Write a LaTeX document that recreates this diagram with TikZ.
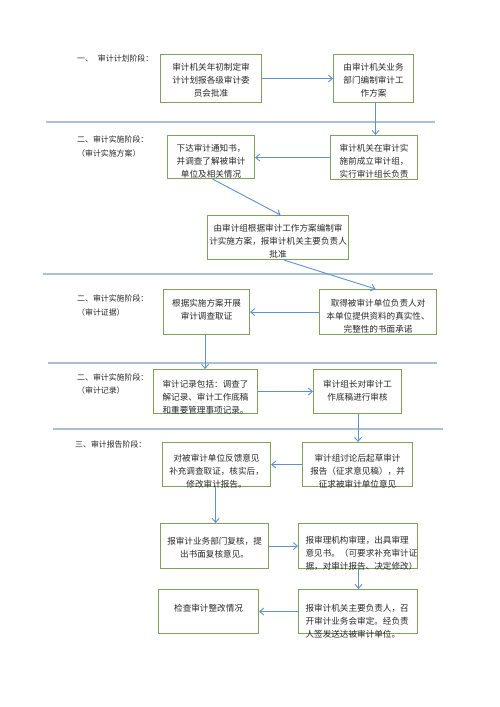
\documentclass[tikz,border=0pt]{standalone}
\usepackage{fontspec}
\newfontfamily\cjk{Noto Sans CJK SC}
\usetikzlibrary{arrows.meta}
\definecolor{boxgreen}{RGB}{128,160,96}
\definecolor{arrowblue}{RGB}{95,145,205}
\definecolor{sepline}{RGB}{172,192,212}
\definecolor{txt}{RGB}{40,40,40}
\tikzset{
  box/.style={draw=boxgreen, line width=1.1pt, anchor=north west, inner xsep=1pt, inner ysep=0pt,
    font=\cjk\fontsize{8.6}{13}\selectfont, text=txt, align=center},
  leftbox/.style={box, inner xsep=7pt, align=left},
  boxdim/.style n args={3}{text width=#1, text height=#2, text depth=#3},
  arr/.style={draw=arrowblue, line width=0.9pt, -{Straight Barb[length=4pt,width=7pt]}},
  sepl/.style={draw=sepline, line width=1.2pt},
  stage/.style={anchor=base west, font=\cjk\fontsize{7.9}{14}\selectfont, align=left,
    inner sep=0pt, text=txt, text width=90pt},
}
\begin{document}
\begin{tikzpicture}[x=1pt,y=-1pt]
\fill[white] (0,0) rectangle (500,707);
\useasboundingbox (0,0) rectangle (500,707);

% separators
\draw[sepl] (46,122) -- (435,122);
\draw[sepl] (43,274) -- (433,274);
\draw[sepl] (48,363) -- (437,363);
\draw[sepl] (53,429) -- (443,429);

% stage labels
\node[stage] (s1) at (77,61) {一、\hspace{5pt}审计计划阶段：};
\node[stage] (s2) at (77,142) {二、审计实施阶段：\\（审计实施方案）};
\node[stage] (s3) at (77,301) {二、审计实施阶段：\\（审计证据）};
\node[stage, font=\cjk\fontsize{7.9}{13}\selectfont] (s4) at (77,380) {二、审计实施阶段：\\（审计记录）};
\node[stage] (s5) at (75,447) {三、审计报告阶段：};

% boxes
\node[box, boxdim={99pt}{16pt}{32pt}] (A) at (160,54) {审计机关年初制定审\\计计划报各级审计委\\员会批准};
\node[box, boxdim={78pt}{16pt}{32pt}] (B) at (333,54) {由审计机关业务\\部门编制审计工\\作方案};
\node[box, boxdim={85pt}{15.5pt}{27.5pt}] (D) at (167,135) {下达审计通知书，\\并调查了解被审计\\单位及相关情况};
\node[box, boxdim={85pt}{15.5pt}{28.5pt}] (C) at (330,135) {审计机关在审计实\\施前成立审计组，\\实行审计组长负责};
\node[box, boxdim={139pt}{15.5pt}{28.5pt}] (E) at (207,215) {由审计组根据审计工作方案编制审\\计实施方案，报审计机关主要负责人\\批准};
\node[box, boxdim={84pt}{16.5pt}{28.5pt}] (G) at (163,289) {根据实施方案开展\\审计调查取证};
\node[box, boxdim={115pt}{16.5pt}{28.5pt}] (F) at (319,289) {取得被审计单位负责人对\\本单位提供资料的真实性、\\完整性的书面承诺};
\node[box, boxdim={102pt}{17.5pt}{26.5pt}] (H) at (153,369) {审计记录包括：调查了\\解记录、审计工作底稿\\和重要管理事项记录。};
\node[box, boxdim={86pt}{17.5pt}{26.5pt}] (I) at (313,369) {审计组长对审计工\\作底稿进行审核};
\node[box, boxdim={106pt}{19pt}{25pt}] (K) at (162,442) {对被审计单位反馈意见\\补充调查取证，核实后，\\修改审计报告。};
\node[box, boxdim={108pt}{18.5pt}{25.5pt}] (J) at (302,442) {审计组讨论后起草审计\\报告（征求意见稿），并\\征求被审计单位意见};
\node[box, boxdim={106pt}{20.5pt}{24.5pt}] (L) at (160,523) {报审计业务部门复核，提\\出书面复核意见。};
\node[leftbox, boxdim={105pt}{19.5pt}{25.5pt}] (M) at (298,523) {报审理机构审理，出具审理\\意见书。（可要求补充审计证\\据，对审计报告、决定修改）};
\node[leftbox, boxdim={105pt}{21.5pt}{22.5pt}] (N) at (298,589) {报审计机关主要负责人，召\\开审计业务会审定。经负责\\人签发送达被审计单位。};
\node[box, boxdim={98pt}{21.5pt}{22.5pt}] (O) at (158,589) {检查审计整改情况};

% arrows
\draw[arr] (A.east) -- (A.east -| B.west);
\draw[arr] ([xshift=2pt]B.south) -- ([xshift=2pt]B.south |- C.north);
\draw[arr] (C.west) -- (C.west -| D.east);
\draw[arr] ([xshift=1.5pt]D.south) -- ([xshift=2.5pt]E.north);
\draw[arr] ([xshift=6pt]E.south) -- ([xshift=-2.5pt]F.north);
\draw[arr] (F.west) -- (F.west -| G.east);
\draw[arr] ([xshift=-1.5pt]G.south) -- ([xshift=-1.5pt]G.south |- H.north);
\draw[arr] (H.east) -- (H.east -| I.west);
\draw[arr] ([xshift=0.5pt]I.south) -- ([xshift=0.5pt]I.south |- J.north);
\draw[arr] (J.west) -- (J.west -| K.east);
\draw[arr] ([xshift=-1pt]K.south) -- ([xshift=-1pt]K.south |- L.north);
\draw[arr] (L.east) -- (L.east -| M.west);
\draw[arr] ([xshift=0.5pt]M.south) -- ([xshift=0.5pt]M.south |- N.north);
\draw[arr] (N.west) -- (N.west -| O.east);
\end{tikzpicture}
\end{document}
